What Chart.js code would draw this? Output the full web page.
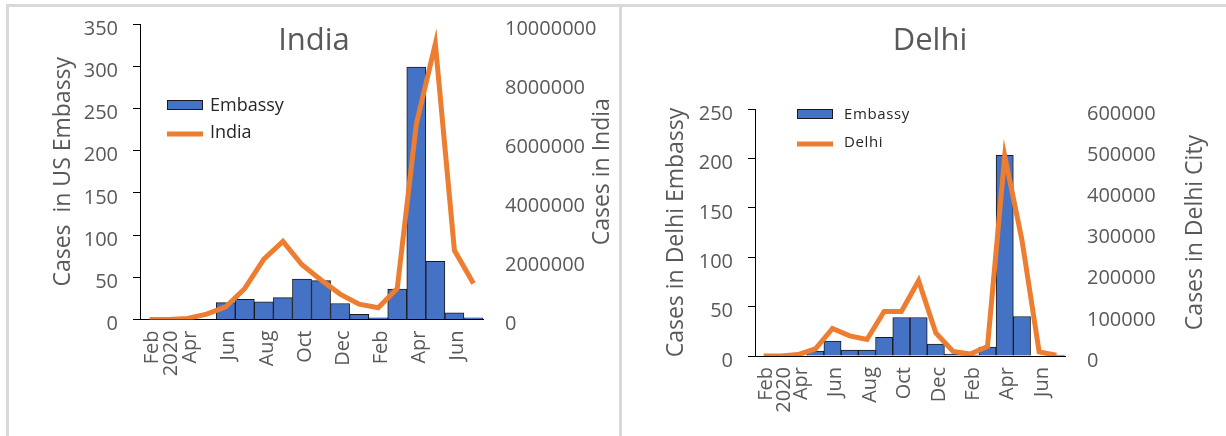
<!DOCTYPE html>
<html>
<head>
<meta charset="utf-8">
<title>India and Delhi cases</title>
<script src="https://cdn.jsdelivr.net/npm/chart.js@4.4.1/dist/chart.umd.min.js"></script>
<style>
  body { margin: 0; background: #fff; width: 1226px; height: 436px; overflow: hidden; position: relative; }
  .edge { position: absolute; background: #d9d9d9; }
  canvas { position: absolute; top: 0; }
</style>
</head>
<body>
<div class="edge" style="left:6px;top:4px;width:1220px;height:3px"></div>
<div class="edge" style="left:6px;top:4px;width:3px;height:432px"></div>
<div class="edge" style="left:619px;top:4px;width:3px;height:432px"></div>
<canvas id="indiaChart" width="620" height="436" style="left:0"></canvas>
<canvas id="delhiChart" width="606" height="436" style="left:620px"></canvas>
<script>
// months Feb 2020 .. Jul 2021
var months = ['Feb 2020', 'Mar 2020', 'Apr 2020', 'May 2020', 'Jun 2020', 'Jul 2020', 'Aug 2020', 'Sep 2020',
  'Oct 2020', 'Nov 2020', 'Dec 2020', 'Jan 2021', 'Feb 2021', 'Mar 2021', 'Apr 2021', 'May 2021', 'Jun 2021', 'Jul 2021'];
var tickLabels = ['Feb', '2020', 'Apr', '', 'Jun', '', 'Aug', '', 'Oct', '', 'Dec', '', 'Feb', '', 'Apr', '', 'Jun', ''];

// India
var indiaEmbassy = [0, 0, 0, 0, 20, 24, 21, 26, 48, 46, 19, 6, 2, 36, 299, 69, 8, 2];
var indiaCases = [0, 1000, 33000, 180000, 430000, 1050000, 2040000, 2640000, 1850000, 1340000,
  860000, 520000, 400000, 1050000, 6610000, 9330000, 2340000, 1220000];

// Delhi
var delhiEmbassy = [0, 0, 0, 5, 15, 6, 6, 19, 39, 39, 12, 2, 1, 9, 203, 40, 0, 1];
var delhiCases = [0, 200, 3500, 17000, 67000, 49000, 40000, 108000, 108000, 183000,
  56000, 11000, 5000, 23000, 486000, 282000, 10000, 2000];

Chart.defaults.font.family = "'Open Sans', sans-serif";
Chart.defaults.color = '#595959';

var blue = '#4472C4';
var orange = '#ED7D31';

// title, legend and axis titles drawn inside the chart
var overlay = {
  id: 'overlay',
  afterDraw: function(chart, args, o) {
    var ctx = chart.ctx;
    var area = chart.chartArea;
    var ds = chart.data.datasets;
    ctx.save();
    ctx.textBaseline = 'middle';
    ctx.fillStyle = '#595959';
    ctx.font = '31px "Open Sans"';
    ctx.textAlign = 'center';
    ctx.fillText(o.title, o.titleX, o.titleY);

    // legend
    ctx.font = o.legendFont;
    ctx.letterSpacing = o.legendSpacing || '0px';
    ctx.textAlign = 'left';
    ctx.fillStyle = blue;
    ctx.fillRect(o.legX, o.legY, o.legW, 10);
    ctx.strokeStyle = '#1a1a1a';
    ctx.lineWidth = 1;
    ctx.strokeRect(o.legX + 0.5, o.legY + 0.5, o.legW - 1, 9);
    ctx.fillStyle = '#262626';
    ctx.fillText(ds[0].label, o.textX, o.legY + 6);
    ctx.strokeStyle = orange;
    ctx.lineWidth = 5;
    ctx.beginPath();
    ctx.moveTo(o.legX, o.lineY);
    ctx.lineTo(o.legX + o.legW, o.lineY);
    ctx.stroke();
    ctx.fillText(ds[1].label, o.textX, o.lineY - 1);
    ctx.letterSpacing = '0px';

    // axis titles, both read bottom to top
    ctx.fillStyle = '#595959';
    ctx.font = '23px "Open Sans"';
    ctx.textAlign = 'center';
    var midY = (area.top + area.bottom) / 2;
    [[o.leftTitle, o.leftTitleX], [o.rightTitle, o.rightTitleX]].forEach(function(t) {
      ctx.save();
      ctx.translate(t[1], midY);
      ctx.rotate(-Math.PI / 2);
      ctx.fillText(t[0], 0, 0);
      ctx.restore();
    });
    ctx.restore();
  }
};

// keep the plot box where the layout puts it
function noPad(s) {
  s.paddingTop = 0;
  s.paddingBottom = 0;
  s.paddingLeft = 0;
  s.paddingRight = 0;
}

function makeChart(id, barData, lineData, lineLabel, leftMax, leftStep, rightMax, rightStep, box, texts) {
  var ctx = document.getElementById(id).getContext('2d');
  return new Chart(ctx, {
    type: 'bar',
    data: {
      labels: months,
      datasets: [{
        type: 'bar',
        label: 'Embassy',
        data: barData,
        backgroundColor: blue,
        borderColor: '#1a1a1a',
        borderWidth: 1,
        barPercentage: 1,
        categoryPercentage: 1,
        yAxisID: 'y',
        order: 2
      }, {
        type: 'line',
        label: lineLabel,
        data: lineData,
        borderColor: orange,
        borderWidth: 5,
        pointRadius: 0,
        tension: 0,
        yAxisID: 'y1',
        order: 1
      }]
    },
    options: {
      responsive: false,
      animation: false,
      layout: { padding: { top: box.top, left: 0, right: 0, bottom: 0 } },
      plugins: {
        legend: { display: false },
        tooltip: { enabled: false },
        overlay: texts
      },
      scales: {
        x: {
          offset: true,
          grid: { display: false, drawTicks: false },
          border: { display: true, color: '#000', width: 1 },
          ticks: {
            autoSkip: false,
            minRotation: 90,
            maxRotation: 90,
            padding: 11,
            labelOffset: 3,
            font: { size: 20 },
            callback: function(v, i) { return tickLabels[i]; }
          },
          afterFit: function(s) { s.height = box.xHeight; noPad(s); }
        },
        y: {
          position: 'left',
          min: 0,
          max: leftMax,
          grid: { drawOnChartArea: false, drawTicks: true, tickLength: 7, color: '#000' },
          border: { display: true, color: '#000', width: 1 },
          ticks: {
            stepSize: leftStep,
            padding: 15,
            labelOffset: 5,
            font: { size: 20 },
            callback: function(v) { return String(v); }
          },
          afterFit: function(s) { s.width = box.leftW; noPad(s); }
        },
        y1: {
          position: 'right',
          min: 0,
          max: rightMax,
          grid: { drawOnChartArea: false, drawTicks: false },
          border: { display: false },
          ticks: {
            stepSize: rightStep,
            padding: 22,
            labelOffset: 5,
            font: { size: 20 },
            callback: function(v) { return String(v); }
          },
          afterFit: function(s) { s.width = box.rightW; noPad(s); }
        }
      }
    },
    plugins: [overlay]
  });
}

makeChart('indiaChart', indiaEmbassy, indiaCases, 'India', 350, 50, 10000000, 2000000,
  { top: 24, leftW: 140, rightW: 137, xHeight: 116.5 },
  { title: 'India', titleX: 314, titleY: 41.5,
    legendFont: '18px "Open Sans"', legX: 167, legY: 100, legW: 36, textX: 210, lineY: 134,
    leftTitle: 'Cases  in US Embassy', leftTitleX: 63, rightTitle: 'Cases in India', rightTitleX: 602 });

makeChart('delhiChart', delhiEmbassy, delhiCases, 'Delhi', 250, 50, 600000, 100000,
  { top: 109, leftW: 135, rightW: 161, xHeight: 80 },
  { title: 'Delhi', titleX: 310, titleY: 41.5,
    legendFont: '15px "Open Sans"', legendSpacing: '0.6px', legX: 177, legY: 109, legW: 36, textX: 224, lineY: 144,
    leftTitle: 'Cases in Delhi Embassy', leftTitleX: 56, rightTitle: 'Cases in Delhi City', rightTitleX: 575 });
</script>
</body>
</html>
